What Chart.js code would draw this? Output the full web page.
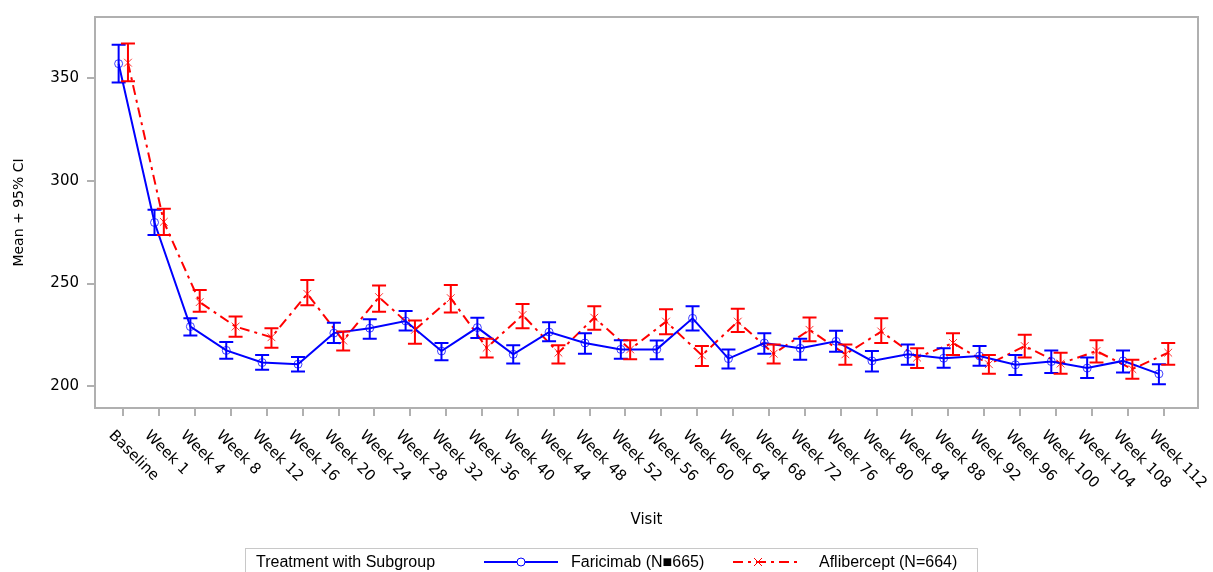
<!DOCTYPE html>
<html>
<head>
<meta charset="utf-8">
<script src="https://cdn.jsdelivr.net/npm/chart.js@4"></script>
<style>
  body { margin: 0; background: #fff; }
  #wrap { position: relative; width: 1213px; height: 572px; overflow: hidden; }
  #legend {
    position: absolute; left: 245px; top: 548px; width: 731px; height: 30px;
    border: 1px solid #c8c8c8; font-family: "Liberation Sans", Arial, sans-serif;
    font-size: 16px; color: #000;
  }
  #legend span, #legend svg { position: absolute; }
</style>
</head>
<body>
<div id="wrap">
  <canvas id="visitChart" width="1213" height="572"></canvas>
  <div id="legend">
    <span style="left:10px; top:4px;">Treatment with Subgroup</span>
    <svg style="left:238px; top:5px;" width="76" height="16">
      <line x1="0" y1="8" x2="74" y2="8" stroke="#0000ff" stroke-width="2"/>
      <circle cx="37" cy="8" r="4" fill="#fff" stroke="#0000ff" stroke-width="1"/>
    </svg>
    <span style="left:325px; top:4px;">Faricimab (N■665)</span>
    <svg style="left:487px; top:5px;" width="70" height="16">
      <line x1="0" y1="8" x2="68" y2="8" stroke="#ff0000" stroke-width="2" stroke-dasharray="10,5,3,5"/>
      <line x1="21" y1="4" x2="29" y2="12" stroke="#ff0000" stroke-width="1"/>
      <line x1="21" y1="12" x2="29" y2="4" stroke="#ff0000" stroke-width="1"/>
    </svg>
    <span style="left:573px; top:4px;">Aflibercept (N=664)</span>
  </div>
</div>
<script>
const visits = ['Baseline', 'Week 1', 'Week 4', 'Week 8', 'Week 12', 'Week 16', 'Week 20', 'Week 24',
  'Week 28', 'Week 32', 'Week 36', 'Week 40', 'Week 44', 'Week 48', 'Week 52', 'Week 56', 'Week 60',
  'Week 64', 'Week 68', 'Week 72', 'Week 76', 'Week 80', 'Week 84', 'Week 88', 'Week 92', 'Week 96',
  'Week 100', 'Week 104', 'Week 108', 'Week 112'];

const faricimabMean = [356.9, 279.7, 229.1, 217.5, 211.6, 210.8, 225.9, 228.3, 231.8, 217.2, 228.6, 215.6,
  226.4, 221.1, 218.0, 218.0, 233.1, 213.5, 221.1, 218.5, 221.9, 212.4, 215.6, 213.7, 214.8, 210.5,
  212.1, 208.9, 212.4, 206.1];
const faricimabLower = [347.8, 273.6, 224.7, 213.5, 208.1, 207.3, 221.1, 223.2, 227.2, 212.7, 223.5, 211.1,
  221.9, 215.9, 213.5, 213.2, 227.2, 208.7, 215.9, 213.0, 216.8, 207.3, 210.5, 209.1, 210.0, 205.6,
  206.5, 204.1, 206.8, 201.0];
const faricimabUpper = [366.1, 285.9, 233.1, 221.6, 215.3, 214.3, 231.0, 232.6, 236.6, 221.1, 233.4, 220.0,
  231.2, 225.9, 222.4, 222.3, 239.0, 218.0, 225.9, 223.2, 227.0, 217.2, 220.4, 218.5, 219.6, 215.3,
  217.5, 214.0, 217.5, 210.8];

const afliberceptMean = [357.4, 280.0, 241.0, 229.1, 223.9, 245.0, 222.3, 243.4, 227.5, 242.9, 218.8, 234.7,
  216.4, 233.4, 218.0, 231.5, 215.1, 231.5, 215.9, 227.5, 215.6, 226.7, 214.0, 221.1, 210.8, 219.6,
  211.1, 217.2, 208.4, 216.4];
const afliberceptLower = [348.4, 273.6, 236.3, 224.2, 218.8, 239.4, 217.5, 236.3, 220.7, 235.9, 214.0, 228.3,
  211.1, 227.5, 213.2, 225.4, 209.9, 226.4, 211.1, 221.9, 210.5, 221.1, 208.9, 215.3, 206.1, 214.0,
  206.1, 211.6, 203.7, 210.5];
const afliberceptUpper = [366.7, 286.4, 246.9, 234.0, 228.3, 251.7, 226.7, 249.0, 232.1, 249.3, 223.2, 240.1,
  220.0, 239.0, 222.4, 237.5, 219.6, 237.8, 220.4, 233.5, 220.4, 233.1, 218.5, 225.9, 215.3, 225.1,
  216.4, 222.4, 212.9, 221.1];

const yTicks = [200, 250, 300, 350];

// points of the two groups are shifted a little apart on each visit
const shift = 0.13;
const toPoints = (vals, lo, hi, dx) => vals.map((v, i) => ({ x: i + dx, y: v, lo: lo[i], hi: hi[i] }));

const axisGray = '#b0b0b0';
const tickFont = '15px "DejaVu Sans", Verdana, sans-serif';

// gray box round the plot area
const framePlugin = {
  id: 'frame',
  afterDraw(chart) {
    const { ctx, chartArea: a } = chart;
    ctx.save();
    ctx.strokeStyle = axisGray;
    ctx.lineWidth = 2;
    ctx.strokeRect(a.left, a.top, a.right - a.left, a.bottom - a.top);
    ctx.restore();
  }
};

// 95% CI whiskers with caps
const errorBarPlugin = {
  id: 'errorBars',
  afterDatasetsDraw(chart) {
    const { ctx } = chart;
    const xs = chart.scales.x, ys = chart.scales.y;
    ctx.save();
    ctx.lineWidth = 2;
    chart.data.datasets.forEach(ds => {
      ctx.strokeStyle = ds.borderColor;
      ctx.setLineDash([]);
      ds.data.forEach(p => {
        const x = xs.getPixelForValue(p.x);
        const yl = ys.getPixelForValue(p.lo);
        const yh = ys.getPixelForValue(p.hi);
        ctx.beginPath();
        ctx.moveTo(x, yl); ctx.lineTo(x, yh);
        ctx.moveTo(x - 7, yl); ctx.lineTo(x + 7, yl);
        ctx.moveTo(x - 7, yh); ctx.lineTo(x + 7, yh);
        ctx.stroke();
      });
    });
    ctx.restore();
  }
};

// x labels slanted down to the right, starting at each tick
const slantLabelsPlugin = {
  id: 'slantLabels',
  afterDraw(chart) {
    const { ctx } = chart;
    const xs = chart.scales.x;
    ctx.save();
    ctx.font = tickFont;
    ctx.fillStyle = '#000';
    ctx.textAlign = 'left';
    ctx.textBaseline = 'top';
    visits.forEach((lab, i) => {
      const x = xs.getPixelForValue(i);
      ctx.save();
      ctx.translate(x - 7, 428);
      ctx.rotate(Math.PI / 4);
      ctx.fillText(lab, 0, 0);
      ctx.restore();
    });
    ctx.restore();
  }
};

const visitConfig = {
  type: 'line',
  data: {
    datasets: [
      {
        label: 'Faricimab (N■665)',
        data: toPoints(faricimabMean, faricimabLower, faricimabUpper, -shift),
        borderColor: '#0000ff',
        backgroundColor: 'rgba(255,255,255,0)',
        borderWidth: 2,
        pointStyle: 'circle',
        pointRadius: 4,
        pointBorderWidth: 1,
        pointBorderColor: 'rgba(0,0,255,0.75)',
        tension: 0
      },
      {
        label: 'Aflibercept (N=664)',
        data: toPoints(afliberceptMean, afliberceptLower, afliberceptUpper, shift),
        borderColor: '#ff0000',
        backgroundColor: 'rgba(255,255,255,0)',
        borderWidth: 2,
        borderDash: [10, 5, 3, 5],
        pointStyle: 'crossRot',
        pointRadius: 5.5,
        pointBorderWidth: 1,
        pointBorderColor: 'rgba(255,0,0,0.8)',
        tension: 0
      }
    ]
  },
  options: {
    responsive: false,
    animation: false,
    devicePixelRatio: 1,
    layout: { padding: { top: 10, right: 15, bottom: 0, left: 0 } },
    plugins: {
      legend: { display: false },
      tooltip: { enabled: false }
    },
    scales: {
      x: {
        type: 'linear',
        min: -0.789,
        max: 29.96,
        afterBuildTicks: s => { s.ticks = visits.map((_, i) => ({ value: i })); },
        afterFit: s => { s.height = 164; },
        ticks: { display: false },
        grid: { drawOnChartArea: false, drawTicks: true, tickLength: 8, color: axisGray, lineWidth: 2 },
        border: { display: false },
        title: {
          display: true,
          text: 'Visit',
          color: '#000',
          font: { family: '"DejaVu Sans", Verdana, sans-serif', size: 15 },
          padding: { top: 0, bottom: 43 }
        }
      },
      y: {
        min: 189.5,
        max: 379.6,
        afterBuildTicks: s => { s.ticks = yTicks.map(v => ({ value: v })); },
        afterFit: s => { s.width = 95; },
        ticks: { color: '#000', padding: 8, font: { family: '"DejaVu Sans", Verdana, sans-serif', size: 15 } },
        grid: { drawOnChartArea: false, drawTicks: true, tickLength: 8, color: axisGray, lineWidth: 2 },
        border: { display: false },
        title: {
          display: true,
          text: 'Mean + 95% CI',
          color: '#000',
          font: { family: '"DejaVu Sans", Verdana, sans-serif', size: 14 },
          padding: { top: 11, bottom: 0 }
        }
      }
    }
  },
  plugins: [framePlugin, errorBarPlugin, slantLabelsPlugin]
};

const visitChart = new Chart(document.getElementById('visitChart'), visitConfig);
</script>
</body>
</html>
